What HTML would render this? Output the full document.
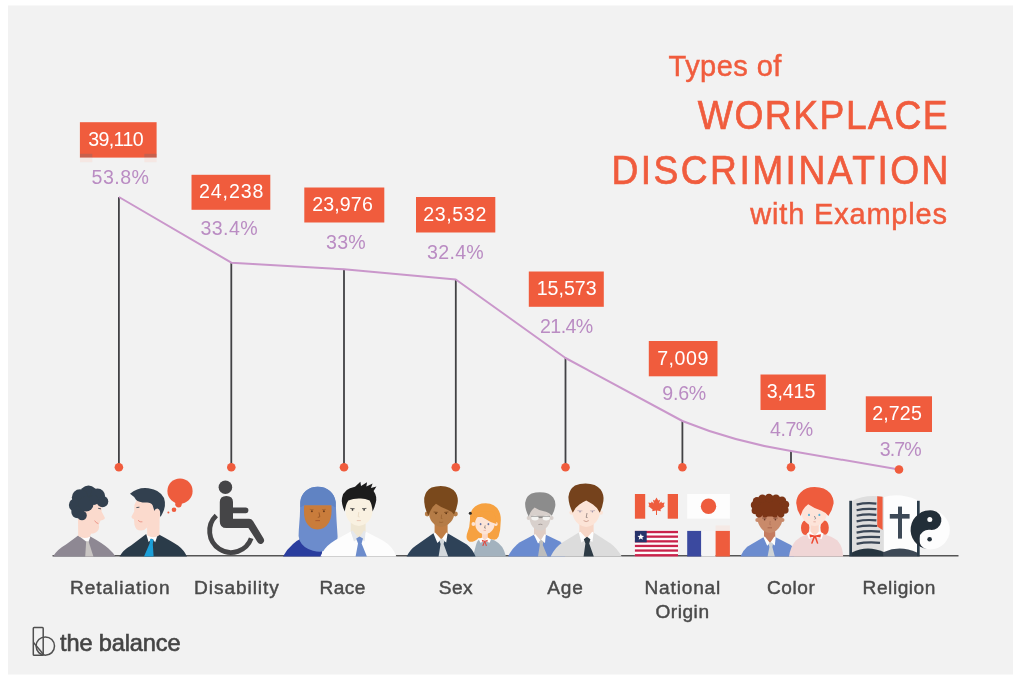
<!DOCTYPE html>
<html lang="en">
<head>
<meta charset="utf-8">
<title>Types of Workplace Discrimination with Examples</title>
<style>
html,body{margin:0;padding:0;background:#fff;}
body{width:1024px;height:679px;overflow:hidden;position:relative;}
svg{position:absolute;left:0;top:0;display:block;}
svg text{font-family:"Liberation Sans",sans-serif;}
</style>
</head>
<body>
<svg width="1024" height="679" viewBox="0 0 1024 679">

<defs><filter id="soft" x="0" y="0" width="1024" height="679" filterUnits="userSpaceOnUse"><feGaussianBlur stdDeviation="0.55"/></filter></defs>
<rect x="8" y="5.5" width="1005" height="669" fill="#f2f2f2"/>
<g filter="url(#soft)">
<g id="title">
<text x="668.6" y="76" font-size="29" fill="#f05c3e" textLength="112.7" lengthAdjust="spacing" stroke="#f05c3e" stroke-width="0.5">Types of</text>
<text transform="translate(697.8,128.8) scale(0.93,1)" x="0" y="0" font-size="40" fill="#f05c3e" textLength="268.6" lengthAdjust="spacing" stroke="#f05c3e" stroke-width="0.7">WORKPLACE</text>
<text transform="translate(611.4,183.8) scale(0.93,1)" x="0" y="0" font-size="40" fill="#f05c3e" textLength="362.4" lengthAdjust="spacing" stroke="#f05c3e" stroke-width="0.7">DISCRIMINATION</text>
<text x="750.3" y="224.4" font-size="29" fill="#f05c3e" textLength="196.7" lengthAdjust="spacing" stroke="#f05c3e" stroke-width="0.5">with Examples</text>
</g>
<g id="chart">
<line x1="118.9" y1="197" x2="118.9" y2="467" stroke="#424244" stroke-width="1.8"/>
<line x1="231.3" y1="262.7" x2="231.3" y2="467" stroke="#424244" stroke-width="1.8"/>
<line x1="344" y1="269.3" x2="344" y2="467" stroke="#424244" stroke-width="1.8"/>
<line x1="455.8" y1="279.5" x2="455.8" y2="467" stroke="#424244" stroke-width="1.8"/>
<line x1="565.5" y1="358" x2="565.5" y2="467" stroke="#424244" stroke-width="1.8"/>
<line x1="682.4" y1="421" x2="682.4" y2="467" stroke="#424244" stroke-width="1.8"/>
<line x1="791" y1="451" x2="791" y2="467" stroke="#424244" stroke-width="1.8"/>
<path d="M118.9,197 L231.3,262.7 L344,269.3 L455.8,279.5 L565.5,358 L682.4,421 Q733,441.5 791,451 L899,469.5" fill="none" stroke="#ca97cb" stroke-width="2" stroke-linejoin="round"/>
<circle cx="118.9" cy="467.2" r="4.3" fill="#f05c3e"/>
<circle cx="231.3" cy="467.2" r="4.3" fill="#f05c3e"/>
<circle cx="344" cy="467.2" r="4.3" fill="#f05c3e"/>
<circle cx="455.8" cy="467.2" r="4.3" fill="#f05c3e"/>
<circle cx="565.5" cy="467.2" r="4.3" fill="#f05c3e"/>
<circle cx="682.4" cy="467.2" r="4.3" fill="#f05c3e"/>
<circle cx="791" cy="467.2" r="4.3" fill="#f05c3e"/>
<circle cx="899" cy="469.5" r="4.3" fill="#f05c3e"/>
</g>
<g id="labels">
<rect x="79.9" y="122.2" width="76.7" height="35.4" fill="#f05c3e"/>
<text x="88.2" y="146" font-size="19.6" fill="#fff" textLength="55.4" lengthAdjust="spacing">39,110</text>
<text x="91.5" y="184.4" font-size="19.6" fill="#ba8cc3" textLength="57.5" lengthAdjust="spacing">53.8%</text>
<rect x="191.5" y="174.8" width="78.8" height="35.0" fill="#f05c3e"/>
<text x="198.89999999999998" y="198.1" font-size="19.6" fill="#fff" textLength="64.5" lengthAdjust="spacing">24,238</text>
<text x="200.6" y="235.2" font-size="19.6" fill="#ba8cc3" textLength="57.0" lengthAdjust="spacing">33.4%</text>
<rect x="304.3" y="187.5" width="80.0" height="35.0" fill="#f05c3e"/>
<text x="312.2" y="211" font-size="19.6" fill="#fff" textLength="60.6" lengthAdjust="spacing">23,976</text>
<text x="326.0" y="248.8" font-size="19.6" fill="#ba8cc3" textLength="39.8" lengthAdjust="spacing">33%</text>
<rect x="416" y="197" width="79.3" height="35.5" fill="#f05c3e"/>
<text x="423.2" y="220.75" font-size="19.6" fill="#fff" textLength="63.1" lengthAdjust="spacing">23,532</text>
<text x="427.0" y="258.8" font-size="19.6" fill="#ba8cc3" textLength="56.8" lengthAdjust="spacing">32.4%</text>
<rect x="528.8" y="271.5" width="75.0" height="35.3" fill="#f05c3e"/>
<text x="536.7" y="295" font-size="19.6" fill="#fff" textLength="59.9" lengthAdjust="spacing">15,573</text>
<text x="540.0" y="333" font-size="19.6" fill="#ba8cc3" textLength="53.3" lengthAdjust="spacing">21.4%</text>
<rect x="648.8" y="341" width="68.7" height="35.3" fill="#f05c3e"/>
<text x="657.2" y="364.5" font-size="19.6" fill="#fff" textLength="51.1" lengthAdjust="spacing">7,009</text>
<text x="662.2" y="400" font-size="19.6" fill="#ba8cc3" textLength="44.1" lengthAdjust="spacing">9.6%</text>
<rect x="760.5" y="374.5" width="65.3" height="35.5" fill="#f05c3e"/>
<text x="766.7" y="398" font-size="19.6" fill="#fff" textLength="48.6" lengthAdjust="spacing">3,415</text>
<text x="770.0" y="436" font-size="19.6" fill="#ba8cc3" textLength="43.3" lengthAdjust="spacing">4.7%</text>
<rect x="865.8" y="396.3" width="66.2" height="35.7" fill="#f05c3e"/>
<text x="872.2" y="420" font-size="19.6" fill="#fff" textLength="49.6" lengthAdjust="spacing">2,725</text>
<text x="879.7" y="455.5" font-size="19.6" fill="#ba8cc3" textLength="42.1" lengthAdjust="spacing">3.7%</text>
<rect x="80" y="153.8" width="12.3" height="3.8" fill="#7a6a6a" opacity="0.35"/><rect x="144.3" y="153.8" width="12.3" height="3.8" fill="#7a6a6a" opacity="0.35"/>
<rect x="80" y="157.6" width="12.3" height="4.6" fill="#fbd3c8" opacity="0.35"/><rect x="144.3" y="157.6" width="12.3" height="4.6" fill="#fbd3c8" opacity="0.35"/>
</g>
<line x1="52.5" y1="555.8" x2="958.5" y2="555.8" stroke="#555" stroke-width="1.6"/>
<!-- 01_retaliation.svg -->
<g id="retaliation">
<!-- person 1 : grey suit, facing right -->
<path d="M53,556.6 Q57,549.5 66,544.5 L78.2,535.6 L90.4,536.4 Q104,544 108.5,548.5 Q113,552.5 115.5,556.6 Z" fill="#8e8893"/>
<path d="M78.2,535.6 L84.5,536 L90.4,536.4 L88.2,542.5 L85.8,541.2 Z" fill="#fdfdfd"/>
<path d="M86.2,541 L88.6,541.4 L93.4,556.6 L85.2,556.6 Z" fill="#c9c5c3"/>
<path d="M78,519 L78.2,536 Q84,539.5 89.8,536.8 L91.2,533.6 Q96,534 98.6,529.5 Q99.6,527 98.8,524.5 L100.6,520.6 Q105.4,519.4 104.8,517.4 L101.6,511.5 L101.8,505 Q97,500.5 90,502.5 Q82,506 78,519 Z" fill="#fbdacd"/>
<path d="M98.2,508.3 L101,508.9" stroke="#3b4654" stroke-width="0.9" fill="none"/>
<path d="M94.6,520.6 Q96,523.2 98.4,523.6" stroke="#e8877a" stroke-width="0.8" fill="none"/>
<g fill="#33414f">
<circle cx="88.5" cy="494.5" r="9"/><circle cx="80" cy="497.5" r="8.2"/><circle cx="97.5" cy="496" r="7.6"/>
<circle cx="75.5" cy="505" r="6.6"/><circle cx="77.5" cy="512" r="6.2"/><circle cx="82" cy="515.5" r="4.8"/>
<circle cx="102.5" cy="501.5" r="5.8"/><circle cx="86" cy="504" r="7.5"/><circle cx="94" cy="500" r="5"/>
</g>
<!-- person 2 : navy suit, facing left -->
<path d="M119.5,556.6 Q123,550 131,545.5 L146.2,534 L158,534 Q172,541.5 178,545.5 Q184,550 187,556.6 Z" fill="#2c3a48"/>
<path d="M146.2,534 L158,534 L155.2,542.2 L151.8,538.6 L148.6,542 Z" fill="#fdfdfd"/>
<path d="M150.2,538.8 L153.6,539.4 L152.8,544 L153.6,556.6 L144,556.6 L149.6,543.6 Z" fill="#1f9fd8"/>
<path d="M147,522 L147.2,535.2 Q153,539.5 159.4,535.2 L159.6,519 Q161,512 158,505 L150,500 L137,499.5 L134.4,505 L134.2,511.4 L131.4,516.8 Q131.4,518.6 134,519.2 L134.4,524.4 Q135.6,530.6 141,530.6 Q145,530.4 147,527.6 Z" fill="#fbdacd"/>
<circle cx="157.2" cy="512.2" r="3.4" fill="#fbdacd"/>
<path d="M136.4,507.6 L139.4,507.2" stroke="#3b4654" stroke-width="0.9" fill="none"/>
<path d="M138,520.2 Q139.8,522.6 142.4,521.8" stroke="#e8877a" stroke-width="0.8" fill="none"/>
<path d="M130,493.8 Q138,486.8 148.5,488.2 Q160,489.6 164,498 Q166.6,505.5 162.4,513.5 Q161.4,516 160,516.8 Q161,509.6 157.6,508.6 Q155.2,508.6 154.4,511 L152.6,505.2 Q150.8,502.2 146,502.6 Q138.4,502.6 136,499.8 Q134.4,496.6 130,493.8 Z" fill="#33414f"/>
<!-- thought bubble -->
<circle cx="180" cy="491" r="12.6" fill="#ee5b3e"/>
<path d="M174,500.5 Q176,503 175.4,505.4 Q179.4,507.6 182.4,503.4 Z" fill="#ee5b3e"/>
<circle cx="178.6" cy="504.6" r="3" fill="#ee5b3e"/>
<circle cx="174" cy="509.8" r="2.3" fill="#ee5b3e"/>
<circle cx="168.4" cy="512.6" r="1" fill="#ee5b3e"/>
</g>
<!-- 02_disability.svg -->
<g id="disability" fill="#454446">
<circle cx="225.4" cy="487.3" r="6.8"/>
<path d="M219.8,502 Q219.8,496 226.4,496 Q233,496 233,502 L233,507.5 L245.6,507.5 Q248.4,507.5 248.4,510.3 Q248.4,513.2 245.6,513.2 L233,513.2 L233,518.8 L249,518.8 Q251.6,518.8 253,521 L263.6,538.6 Q265.2,541.6 262.4,543.4 Q259.4,545 257.6,542.2 L248.4,528 L226.4,528 Q219.8,528 219.8,521.4 Z"/>
<path d="M216.3,515.6 A21.4,21.4 0 1 0 251.2,538.3" fill="none" stroke="#454446" stroke-width="4.8"/>
</g>
<!-- 03_race.svg -->
<g id="race">
<!-- woman in hijab -->
<path d="M283,556.6 Q287,549 293,544 Q297,540.5 301,538.6 L322,545 L322,556.6 Z" fill="#2c3c9e"/>
<path d="M317.8,486.8 C327.5,486.8 334.6,493 335.7,502 Q336.4,520 337.6,536.6 Q338,545 330,549.5 Q322,553 313,550.8 Q303,548 299.6,540.5 Q298,536 298.8,530 Q300.2,515 300.3,502 C301.2,493 308,486.8 317.8,486.8 Z" fill="#6c8ccc"/>
<path d="M317.8,486.8 C327.5,486.8 334.6,493 335.7,502 L335.6,507.5 L331.4,505.2 L304.2,505.2 L300.3,507.5 L300.3,502 C301.2,493 308,486.8 317.8,486.8 Z" fill="#6083c3"/>
<path d="M304.2,505.2 L331.4,505.2 Q332.4,516 329,522.4 Q324.6,529.4 317.4,529.4 Q310,529.4 306,522 Q303.2,516 304.2,505.2 Z" fill="#c97b3a"/>
<circle cx="311.9" cy="511.3" r="0.95" fill="#6a3a1a"/><circle cx="323.9" cy="511.3" r="0.95" fill="#6a3a1a"/>
<path d="M309.8,509.4 L313.6,509.6 M322,509.6 L325.8,509.4" stroke="#9a5a28" stroke-width="0.6" fill="none"/>
<path d="M319,512.4 L319.8,516.8 L317.8,517.4" stroke="#8a4a20" stroke-width="0.7" fill="none"/>
<path d="M315.4,520.6 L320,520.6" stroke="#a8552a" stroke-width="0.9" fill="none"/>
<!-- man in white shirt -->
<path d="M320.4,556.6 Q324,548 331,543 Q336,539.6 340,537.6 L350.8,531.4 L365.6,531.4 L382.4,540.2 Q388,543.4 391.4,547.6 Q394.4,551.4 396.4,556.6 Z" fill="#fdfdfd"/>
<path d="M350.8,519 L350.8,531.4 L354,539.4 L358.4,541 L363.2,539.4 L365.6,531.4 L365.6,519 Z" fill="#efe6d2"/>
<path d="M350.8,531.4 L352.6,530.6 L359,538.2 L364,530.6 L365.6,531.4 L364.6,541.4 L359.6,537.6 L354,541.4 Z" fill="#e4e7ec"/>
<path d="M356.2,538.6 L359.6,536.6 L363,538.6 L361.6,543.4 L366.9,556.6 L355.6,556.6 L358,543.4 Z" fill="#6c8ccc"/>
<path d="M345.6,500 Q345,498 358.8,497.6 Q372.6,498 372.4,500 L372.6,511 Q372,519.4 366.4,523.2 Q362,526 358.8,526 Q355,526 351.4,523.2 Q346,519.4 345.4,511 Z" fill="#f9f1e1"/>
<path d="M350.2,508.4 L354.6,508.7 M362,508.7 L366.4,508.4" stroke="#2a2a2a" stroke-width="0.7" fill="none"/>
<circle cx="352.5" cy="509.8" r="0.9" fill="#2a2a2a"/><circle cx="364.1" cy="509.8" r="0.9" fill="#2a2a2a"/>
<path d="M358.8,512 L358.2,516.6 L359.6,517" stroke="#e6d6bd" stroke-width="0.7" fill="none"/>
<path d="M356.8,520.6 L360.8,520.6" stroke="#e3b9a6" stroke-width="0.8" fill="none"/>
<path d="M344.8,511.6 Q341,503.6 342,498 Q343.6,488.6 355,486.8 L360.4,481.8 L361,486 L367,482.2 L366.4,486.6 L372.6,483.6 L371,488 L376.4,486.6 L373.6,491 Q377.4,496.6 375.8,502.6 Q374.6,508 372.6,511.6 Q372.2,504.6 369.6,500.4 Q364,498 358.8,498.6 Q353,498.6 348.4,500.6 Q345.6,504.6 344.8,511.6 Z" fill="#1d1d1f"/>
</g>
<!-- 04_sex.svg -->
<g id="sex">
<!-- girl (behind) -->
<path d="M485.7,503.2 Q495,503.2 499,511 Q501.4,516 500.6,523 Q500.6,531 498.6,536.4 Q497,539.6 494.4,539.8 L478.6,538 Q474,542.4 469.6,541.8 Q465.6,540 466.8,534.6 Q470,527 470,520 Q469.6,513 472.6,509 Q477,503.2 485.7,503.2 Z" fill="#f6a13f"/>
<path d="M473,556.6 L476,545 Q477,540.6 480,539 L490.4,539 Q495,540 498.4,543 Q502.6,546.6 504,550.6 L506,556.6 Z" fill="#a3b2be"/>
<path d="M482,530 L482,538 L484.8,541 L487.8,538 L487.8,530 Z" fill="#fbd9c9"/>
<path d="M478.8,539.6 L482,537.4 L484.8,540.6 L487.8,537.4 L491,539.6 L489.6,542.8 L484.8,541 L480.4,542.8 Z" fill="#fdfdfd"/>
<path d="M481.8,539.8 L484.8,540.8 L487.8,539.8 L487.4,541.8 L485.4,541.6 L487,545.8 L485.8,546 L484.8,542.6 L483.4,546 L482.2,545.8 L484,541.6 L482.2,541.8 Z" fill="#e0493f"/>
<circle cx="473.4" cy="524" r="1.9" fill="#fde4d6"/><circle cx="495.8" cy="524" r="1.9" fill="#fde4d6"/>
<path d="M475.2,517 L494.6,517 L494.6,524 Q494.4,529.4 490,532.4 Q486.6,534.4 484.8,534.4 Q482.6,534.4 479.6,532.4 Q475.4,529.4 475.2,524 Z" fill="#fde4d6"/>
<path d="M474.4,522.4 Q474.4,514 480,511.6 L492,511.6 Q496,515 496.4,524 Q490,522.4 484.6,518.6 Q481,516.4 479.4,515.6 Q476,517.6 474.4,522.4 Z" fill="#f6a13f"/>
<ellipse cx="480.6" cy="524.2" rx="0.9" ry="1.1" fill="#6a78a8"/><ellipse cx="488.4" cy="524.2" rx="0.9" ry="1.1" fill="#6a78a8"/>
<path d="M485.2,525.4 L484.6,528 L485.8,528.2" stroke="#555" stroke-width="0.6" fill="none"/>
<path d="M483.6,530.4 L486,530.4" stroke="#e79a8a" stroke-width="0.6" fill="none"/>
<circle cx="470.3" cy="513.2" r="1.5" fill="#2d2d2d"/>
<!-- man -->
<path d="M406.6,556.6 Q410,549.4 416,545.4 L433.4,533.2 L447.6,533.2 L466.8,544.6 Q472.4,549 475.6,556.6 Z" fill="#2e4359"/>
<path d="M434.6,520 L434.6,534 L441,541 L447.6,534 L447.6,520 Z" fill="#c07e45"/>
<path d="M433.4,533.2 L435,532.6 L441.4,539.4 L446.4,532.6 L447.6,533.2 L446.2,542.4 L441.6,539 L437.4,543 Z" fill="#fdfdfd"/>
<path d="M439.4,540.2 L441.8,538.4 L444.6,540.2 L443.6,544 L448.2,556.6 L438.6,556.6 L440.6,544 Z" fill="#d3d8dc"/>
<circle cx="427.2" cy="514" r="2.4" fill="#b57c46"/><circle cx="455.4" cy="514" r="2.4" fill="#b57c46"/>
<path d="M429,503 L454.4,503 L454.4,513.6 Q453.6,520.6 448,524.6 Q444,527 441,527 Q438,527 434.6,524.6 Q429.4,520.6 429,513.6 Z" fill="#b57c46"/>
<path d="M433.6,512 L437.8,512.4 M444.2,512.4 L448.4,512" stroke="#6a3c18" stroke-width="0.7" fill="none"/>
<circle cx="436" cy="513.4" r="0.8" fill="#5a3212"/><circle cx="446.2" cy="513.4" r="0.8" fill="#5a3212"/>
<path d="M441.6,514.6 L441.2,518.4 L442.4,518.6" stroke="#96602e" stroke-width="0.7" fill="none"/>
<path d="M439,522 Q441,523 443.2,522" stroke="#96602e" stroke-width="0.7" fill="none"/>
<path d="M440.8,486 Q451,486 455.6,492.6 Q458.6,497.6 457.6,503.6 Q456.6,509.6 454,514.4 Q451.4,511 447,509.4 Q440.6,507.4 436,503.8 Q433,506 430.6,510.4 Q429,513.4 428.4,515.8 Q423.6,506.6 424.2,498 Q425.6,490.6 431.6,487.6 Q436,486 440.8,486 Z" fill="#7a4a1e"/>
</g>
<!-- 05_age.svg -->
<g id="age">
<!-- old man (behind) -->
<path d="M508,556.6 Q512,548 519.4,542.4 L534,534.8 L545.8,534.8 L559.4,541.2 Q563,543.4 565,547 L565,556.6 Z" fill="#6a8bd0"/>
<path d="M534,521 L534,535.6 L540,542 L545.8,535.6 L545.8,521 Z" fill="#e0cdc4"/>
<path d="M534,534.8 L535.4,534.2 L540.6,540.6 L544.6,534.2 L545.8,534.8 L545,543 L541,540.4 L538,543.4 Z" fill="#fdfdfd"/>
<path d="M539,541.6 L541.2,539.8 L543.4,541.6 L542.8,545 L547.6,556.6 L538,556.6 L539.8,545 Z" fill="#bdbdbd"/>
<circle cx="528.6" cy="518" r="2" fill="#d8d0cc"/><circle cx="551.6" cy="518" r="2" fill="#d8d0cc"/>
<path d="M529.4,506 L550.6,506 L550.6,518 Q550,525 545.4,528.6 Q542.6,530.8 540.2,530.8 Q537.6,530.8 534.6,528.6 Q530,525 529.4,518 Z" fill="#d8d0cc"/>
<ellipse cx="535" cy="518" rx="3.7" ry="2.4" fill="#f4f4f2"/><ellipse cx="546.2" cy="518" rx="3.7" ry="2.4" fill="#f4f4f2"/>
<path d="M531.2,516.4 L550,516.4" stroke="#777" stroke-width="0.6" fill="none"/>
<path d="M538.6,517.6 L542.6,517.6" stroke="#666" stroke-width="0.7" fill="none"/>
<path d="M538.4,524.6 Q540.4,523.8 542.4,524.6" stroke="#8d8381" stroke-width="0.7" fill="none"/>
<path d="M539.9,492.2 Q549,492.2 553.2,497.6 Q556,501.6 555.2,506.6 Q554.4,511.6 551.8,515.8 Q549.6,513 546,511.8 Q539,510.4 534.6,507.4 Q532,509.4 530.4,512.6 Q529.4,514.8 528.8,516.8 Q524.6,508.6 525.2,502.4 Q526.4,495.6 531.6,493.4 Q535.4,492.2 539.9,492.2 Z" fill="#8c8c8c"/>
<!-- young man -->
<path d="M550.6,556.6 Q555,547.4 562.4,542.6 L578.8,532.4 L593.6,532.4 L610.6,543.4 Q617,548 621.8,556.6 Z" fill="#dcdcdc"/>
<path d="M579.4,520 L579.4,533.4 L586.4,540 L593.6,533.4 L593.6,520 Z" fill="#f7d6c6"/>
<path d="M578.8,532.4 L580.4,531.8 L586.6,538.6 L592.2,531.8 L593.6,532.4 L592.4,542 L587,538.4 L581.4,542.4 Z" fill="#fdfdfd"/>
<path d="M583.8,539.2 L587,536.8 L590.4,539.2 L589.2,543.6 L593.8,556.6 L583.6,556.6 L585.4,543.6 Z" fill="#2d3b45"/>
<circle cx="571.6" cy="512.6" r="2.2" fill="#fce4d7"/><circle cx="600.8" cy="512.6" r="2.2" fill="#fce4d7"/>
<path d="M572.4,500 L600,500 L600,512.6 Q599.2,520 593.4,524.6 Q589.6,527 586.2,527 Q583,527 579,524.6 Q573,520 572.4,512.6 Z" fill="#fce4d7"/>
<path d="M577.4,510.6 L582.4,510.9 M590,510.9 L595,510.6" stroke="#b9a9b4" stroke-width="0.7" fill="none"/>
<circle cx="580" cy="511.8" r="0.8" fill="#9a8fa8"/><circle cx="592.4" cy="511.8" r="0.8" fill="#9a8fa8"/>
<path d="M587,513 L586.2,517.4 L587.6,517.6" stroke="#6a5a5a" stroke-width="0.6" fill="none"/>
<path d="M583.6,520.6 Q586.2,522.6 588.8,520.6" stroke="#c08a7a" stroke-width="0.7" fill="none"/>
<path d="M585.6,483.6 Q596,483.6 600.6,489.6 Q604.2,494.6 603.4,501 Q602.4,507.6 599.8,512.8 Q597.6,507.6 593,504.6 Q589,502 586.2,500.6 Q583,502 579.4,504.6 Q575,507.6 572.8,512.8 Q568.6,504.6 568.4,497 Q569,489.6 575,485.6 Q579.6,483.6 585.6,483.6 Z" fill="#74421b"/>
</g>
<!-- 06_flags.svg -->
<g id="flags">
<!-- Canada -->
<rect x="634.9" y="494" width="10.3" height="24.7" fill="#ee5b3e"/>
<rect x="667.7" y="494" width="10.3" height="24.7" fill="#ee5b3e"/>
<path d="M656.5,497.4 L658.2,500.6 L660,499.8 L659.2,503.6 L661.4,501.6 L661.9,503 L664.6,502.6 L663.7,505.4 L664.8,506 L660.4,509.6 L660.9,511.2 L657,510.6 L657,515 L656,515 L656,510.6 L652.1,511.2 L652.6,509.6 L648.2,506 L649.3,505.4 L648.4,502.6 L651.1,503 L651.6,501.6 L653.8,503.6 L653,499.8 L654.8,500.6 Z" fill="#ee5b3e"/>
<!-- Japan -->
<rect x="687.2" y="494" width="42.7" height="24.7" fill="#fdfdfd"/>
<circle cx="708.5" cy="506.2" r="7.7" fill="#ee5b3e"/>
<!-- Liberia -->
<rect x="634.9" y="530.9" width="43.1" height="25.6" fill="#fdfdfd"/>
<g fill="#c9244b">
<rect x="634.9" y="530.9" width="43.1" height="2.3"/><rect x="634.9" y="535.5" width="43.1" height="2.3"/><rect x="634.9" y="540.2" width="43.1" height="2.3"/>
<rect x="634.9" y="544.8" width="43.1" height="2.3"/><rect x="634.9" y="549.4" width="43.1" height="2.3"/><rect x="634.9" y="554.1" width="43.1" height="2.4"/>
</g>
<rect x="634.9" y="530.9" width="11.8" height="11.4" fill="#27306b"/>
<path d="M640.8,533.6 L641.7,535.8 L644.1,536 L642.3,537.5 L642.9,539.8 L640.8,538.5 L638.7,539.8 L639.3,537.5 L637.5,536 L639.9,535.8 Z" fill="#fdfdfd"/>
<!-- France -->
<rect x="687.2" y="530.9" width="14.1" height="25.6" fill="#3a4a9f"/>
<rect x="701.3" y="530.9" width="14.3" height="25.6" fill="#f5f5f5"/>
<rect x="715.6" y="525.4" width="14.3" height="5.5" fill="#fbd9cf" opacity="0.35"/>
<rect x="715.6" y="530.9" width="14.3" height="25.6" fill="#ee5b3e"/>
</g>
<!-- 07_color.svg -->
<g id="color">
<!-- curly boy -->
<path d="M740.4,556.6 Q743,550.4 747.2,546.8 L763.4,537.2 L775.7,537.2 L790.8,545 Q793,546.6 794,549 L794,556.6 Z" fill="#6c8ccf"/>
<path d="M764,524 L764,538 L769.8,544 L775.2,538 L775.2,524 Z" fill="#c47c61"/>
<path d="M763.4,537.2 L764.8,536.6 L770,543 L774.4,536.6 L775.7,537.2 L774.8,545.4 L770.6,542.6 L767.2,545.8 Z" fill="#fdfdfd"/>
<path d="M768.6,543.8 L770.8,542 L773,543.8 L772.4,547 L774.8,556.6 L767.6,556.6 L769.4,547 Z" fill="#d0d4d6"/>
<circle cx="757.4" cy="520" r="2.1" fill="#c98a6b"/><circle cx="782.4" cy="520" r="2.1" fill="#c98a6b"/>
<path d="M757.6,510 L782.4,510 L782.4,519.6 Q781.8,526 776.4,530.6 Q773,533 769.8,533 Q766.6,533 763.2,530.6 Q758.2,526 757.6,519.6 Z" fill="#c98a6b"/>
<path d="M762,518 L766.4,518.4 M773.4,518.4 L777.8,518" stroke="#7a4632" stroke-width="0.7" fill="none"/>
<circle cx="764.6" cy="519.6" r="0.85" fill="#6a3a28"/><circle cx="775.4" cy="519.6" r="0.85" fill="#6a3a28"/>
<path d="M770.2,521 L769.8,524.6 L770.8,524.8" stroke="#a86a50" stroke-width="0.6" fill="none"/>
<path d="M767.6,527.8 L772,527.8" stroke="#a05a44" stroke-width="0.8" fill="none"/>
<g fill="#7b3519">
<ellipse cx="770" cy="506" rx="15.5" ry="10.5"/>
<circle cx="757" cy="501.2" r="4.2"/><circle cx="762.4" cy="498.8" r="4.2"/><circle cx="769" cy="498" r="4.2"/><circle cx="776" cy="498.6" r="4.2"/><circle cx="782" cy="500.8" r="4.2"/>
<circle cx="785.4" cy="504.6" r="3.8"/><circle cx="784.8" cy="510" r="3.8"/><circle cx="781" cy="514" r="3.4"/>
<circle cx="754.6" cy="505" r="3.8"/><circle cx="755.4" cy="510.4" r="3.8"/><circle cx="759" cy="514" r="3.4"/>
<circle cx="765" cy="515" r="2.6"/><circle cx="775" cy="515" r="2.6"/>
</g>
<!-- red-hair girl -->
<ellipse cx="805.2" cy="527.8" rx="4.2" ry="7.2" fill="#ee5b3e"/><ellipse cx="824.6" cy="527.8" rx="4.2" ry="7.2" fill="#ee5b3e"/>
<path d="M789,556.6 Q790.6,545.6 796,540.4 Q801,536 807.6,534.2 L823.5,534.2 Q832,536.4 837,540.2 Q841,544 842.4,550.6 L843.2,556.6 Z" fill="#f0d6d6"/>
<path d="M810.5,520 L810.5,532.6 L814.8,536.4 L818.8,532.6 L818.8,520 Z" fill="#fbd8ca"/>
<path d="M807,533.6 L810.4,531.6 L814.8,535.8 L819,531.6 L823.5,533.6 L821.6,539 L814.8,536.6 L809,539 Z" fill="#fdfdfd"/>
<path d="M809.4,534.2 L814.8,535.6 L821,534.2 L820.4,537.6 L816.2,536.8 L818.4,543.4 L817,543.8 L814.8,537.8 L812.4,543.8 L811,543.4 L813.4,536.8 L810,537.6 Z" fill="#ee4a32"/>
<path d="M801.6,504 L827,504 L827,513.6 Q826.4,520 821,524 Q817.6,526 814.6,526 Q811.6,526 808,524 Q802.2,520 801.6,513.6 Z" fill="#fde4d9"/>
<ellipse cx="809" cy="514.9" rx="1" ry="1.2" fill="#5ab4d8"/><ellipse cx="819.4" cy="514.9" rx="1" ry="1.2" fill="#5ab4d8"/>
<path d="M814.4,516 L815.6,518.6 L814.6,519.2" stroke="#4a5a66" stroke-width="0.6" fill="none"/>
<path d="M813.4,521.8 L815.8,521.8" stroke="#d99484" stroke-width="0.6" fill="none"/>
<path d="M814.6,487 Q825,487 830,493 Q833.8,497.6 833.6,503.6 Q832.6,509.6 828.4,516 Q826,512.6 821.6,510.8 Q813.6,508 808.2,504.2 Q804.6,506.6 802.6,510.6 L800.6,516 Q796.6,509.6 796.2,503 Q796.4,496.6 800.6,492.4 Q806,487 814.6,487 Z" fill="#ee5b3e"/>
</g>
<!-- 08_religion.svg -->
<g id="religion">
<circle cx="930.2" cy="529.8" r="19.6" fill="#fdfdfd"/>
<!-- book -->
<path d="M851.9,501 Q866,493.6 883.9,497 L883.9,556 L851.9,556 Z" fill="#dedede"/>
<path d="M883.9,497 Q900,492.6 917,500 L917,556 L883.9,556 Z" fill="#fdfdfd"/>
<path d="M851.9,556.4 L851.9,552.6 Q867,544.6 883.9,552 L883.9,556.4 Z" fill="#273440"/>
<path d="M883.9,556.4 L883.9,552 Q900,544.8 917,552.6 L917,556.4 Z" fill="#3e4a57"/>
<rect x="849.3" y="500.8" width="2.7" height="55.7" fill="#2c3b4a"/>
<rect x="917" y="500.8" width="2.7" height="55.7" fill="#2c3b4a"/>
<path d="M877.2,496.2 L882.6,496.8 L882.6,530 L877.2,526.4 Z" fill="#ee5b3e"/>
<g stroke="#3a4656" stroke-width="2.2" fill="none">
<path d="M856.6,504.6 Q866,502.4 876.4,503.6"/>
<path d="M856.6,510.2 Q866,508 876.4,509.2"/>
<path d="M856.6,515.8 Q866,513.6 876.4,514.8"/>
<path d="M856.6,521.4 Q866,519.2 876.4,520.4"/>
<path d="M856.6,527 Q866,524.8 877,526"/>
<path d="M856.6,532.6 Q867,530.4 880,531.6"/>
<path d="M856.6,538.2 Q867,536 880,537.2"/>
<path d="M856.6,543.8 Q867,541.6 880,542.8"/>
</g>
<rect x="898" y="506.6" width="4" height="32" fill="#3e4a57"/>
<rect x="889.8" y="514" width="19.8" height="4.6" fill="#3e4a57"/>
<!-- yin yang (in front of book) -->
<path d="M930.2,510.2 A19.6,19.6 0 0 0 930.2,549.4 A9.8,9.8 0 0 1 930.2,529.8 A9.8,9.8 0 0 0 930.2,510.2 Z" fill="#232d37" transform="rotate(8 930.2 529.8)"/>
<circle cx="929.8" cy="519.4" r="2.5" fill="#fdfdfd"/>
<circle cx="929.6" cy="539.2" r="2.3" fill="#232d37"/>
</g>
<g id="cats">
<text x="70.1" y="593.9" font-size="19.1" fill="#4a4a4a" textLength="99.4" lengthAdjust="spacing" stroke="#4a4a4a" stroke-width="0.45">Retaliation</text>
<text x="194.1" y="593.9" font-size="19.1" fill="#4a4a4a" textLength="84.7" lengthAdjust="spacing" stroke="#4a4a4a" stroke-width="0.45">Disability</text>
<text x="319.5" y="594.1999999999999" font-size="19.1" fill="#4a4a4a" textLength="45.9" lengthAdjust="spacing" stroke="#4a4a4a" stroke-width="0.45">Race</text>
<text x="438.7" y="594.1999999999999" font-size="19.1" fill="#4a4a4a" textLength="33.9" lengthAdjust="spacing" stroke="#4a4a4a" stroke-width="0.45">Sex</text>
<text x="547.3" y="594.1999999999999" font-size="19.1" fill="#4a4a4a" textLength="35.5" lengthAdjust="spacing" stroke="#4a4a4a" stroke-width="0.45">Age</text>
<text x="644.5" y="594.1999999999999" font-size="19.1" fill="#4a4a4a" textLength="75.8" lengthAdjust="spacing" stroke="#4a4a4a" stroke-width="0.45">National</text>
<text x="655.5" y="618.4" font-size="19.1" fill="#4a4a4a" textLength="53.5" lengthAdjust="spacing" stroke="#4a4a4a" stroke-width="0.45">Origin</text>
<text x="767" y="594.1999999999999" font-size="19.1" fill="#4a4a4a" textLength="47.9" lengthAdjust="spacing" stroke="#4a4a4a" stroke-width="0.45">Color</text>
<text x="862.6" y="594.1999999999999" font-size="19.1" fill="#4a4a4a" textLength="72.8" lengthAdjust="spacing" stroke="#4a4a4a" stroke-width="0.45">Religion</text>
</g>
<g id="logo" fill="none" stroke="#505050" stroke-width="1.5">
<rect x="33.3" y="627.6" width="9.9" height="27.6" rx="0.8"/>
<circle cx="45.3" cy="646.1" r="9.2"/>
<path d="M33.5,642.5 L44,655"/>
</g>
<text x="60" y="650.8" font-size="23.6" fill="#444" textLength="120.6" lengthAdjust="spacing" stroke="#444" stroke-width="0.6">the balance</text>
</g>
</svg>
</body>
</html>
